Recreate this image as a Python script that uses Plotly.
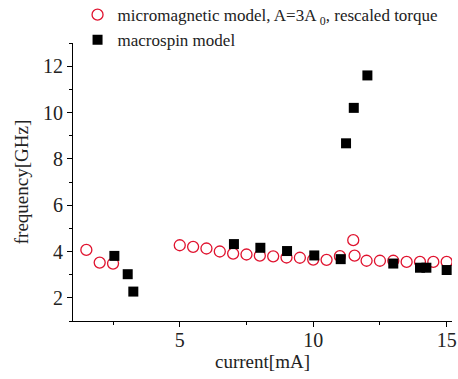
import plotly.graph_objects as go

# micromagnetic model (open red circles)
micro_current = [1.5, 2.0, 2.5, 5.0, 5.5, 6.0, 6.5, 7.0, 7.5, 8.0, 8.5, 9.0, 9.5, 10.0, 10.5,
                 11.0, 11.5, 11.55, 12.0, 12.5, 13.0, 13.5, 14.0, 14.5, 15.0]
micro_freq = [4.07, 3.52, 3.48, 4.27, 4.2, 4.13, 4.0, 3.91, 3.87, 3.82, 3.79, 3.74, 3.73, 3.65, 3.64,
              3.8, 4.49, 3.82, 3.6, 3.6, 3.6, 3.55, 3.55, 3.55, 3.55]

# macrospin model (filled black squares)
macro_current = [2.55, 3.05, 3.26, 7.03, 8.02, 9.02, 10.04, 11.03, 11.23, 11.52, 12.03, 13.0, 14.0, 14.24, 15.0]
macro_freq = [3.81, 3.02, 2.27, 4.32, 4.16, 4.02, 3.83, 3.67, 8.67, 10.2, 11.6, 3.48, 3.3, 3.3, 3.2]

x_ticks = [5, 10, 15]
y_ticks = [2, 4, 6, 8, 10, 12]

font_family = "Liberation Serif"

fig = go.Figure()
fig.add_trace(go.Scatter(
    x=micro_current, y=micro_freq, mode="markers",
    name="micromagnetic model, A=3A <sub>0</sub>, rescaled torque",
    marker=dict(symbol="circle-open", size=11, color="#e0132f", line=dict(width=1.3)),
    legendrank=1))
fig.add_trace(go.Scatter(
    x=macro_current, y=macro_freq, mode="markers", name="macrospin model",
    marker=dict(symbol="square", size=10, color="black"), legendrank=2))

axis_common = dict(showline=True, linecolor="black", linewidth=1.2, showgrid=False,
                   zeroline=False, ticks="outside", ticklen=5, tickwidth=1.2, tickcolor="black",
                   tickfont=dict(family=font_family, size=20, color="#222"),
                   mirror=False)

fig.update_layout(
    width=458, height=379,
    margin=dict(l=73, r=6, t=43, b=58, autoexpand=False),
    plot_bgcolor="white", paper_bgcolor="white",
    font=dict(family=font_family, color="#222"),
    xaxis=dict(range=[1.0, 15.2], tickvals=x_ticks, ticklabelstandoff=-4,
               minor=dict(ticks="outside", ticklen=3, tickcolor="black", dtick=2.5, tick0=0),
               title=dict(text="current[mA]", font=dict(family=font_family, size=19), standoff=0),
               **axis_common),
    yaxis=dict(range=[1.0, 13.0], tickvals=y_ticks,
               minor=dict(ticks="outside", ticklen=3, tickcolor="black", dtick=1, tick0=0),
               title=dict(text="frequency[GHz]", font=dict(family=font_family, size=19), standoff=9),
               **axis_common),
    legend=dict(x=0.012, y=1.165, xref="paper", yref="paper", yanchor="top", xanchor="left",
                font=dict(family=font_family, size=17, color="#222"),
                bgcolor="rgba(0,0,0,0)", itemwidth=30, tracegroupgap=0),
    showlegend=True,
)

fig.write_html("out.html",
               config={"displayModeBar": False},
               post_script="document.body.style.margin='0px';document.body.style.overflow='hidden';")
